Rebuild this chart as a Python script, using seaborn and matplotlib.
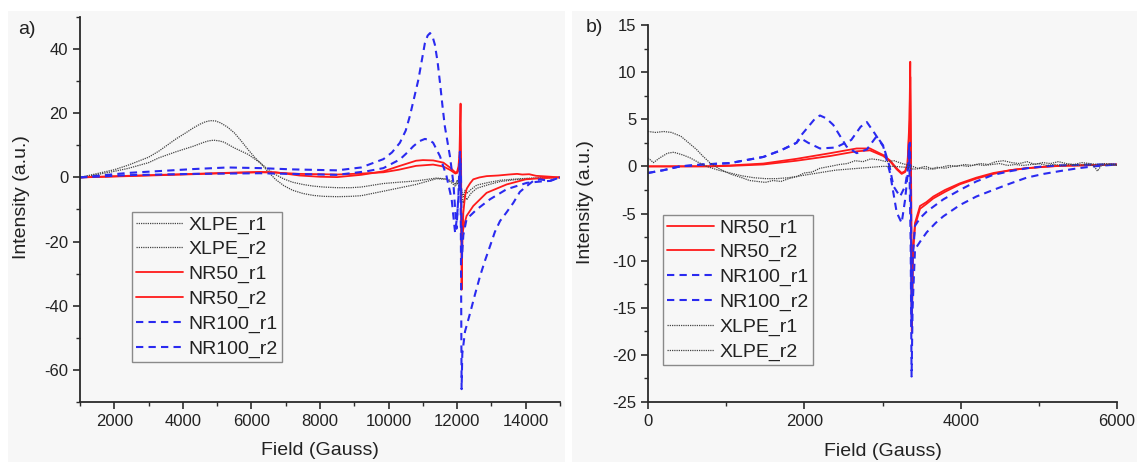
import matplotlib
matplotlib.use("Agg")
import matplotlib.pyplot as plt
import seaborn as sns
from matplotlib.patches import Rectangle
from matplotlib.ticker import MultipleLocator

# ---------------- Panel a data ----------------
a_xlpe_r1_x = [1000, 1500, 2000, 2400, 3000, 3300, 3800, 4100, 4300, 4500, 4650, 4800, 4950, 5100, 5300, 5500, 5700, 5900, 6100, 6250, 6450, 6700, 6950, 7200, 7500, 7800, 8100, 8500, 8900, 9200, 9850, 10300, 10800, 11400, 11700, 11850, 11950, 12000, 12060, 12100, 12140, 12180, 12230, 12280, 12400, 12570, 12900, 13250, 13700, 14200, 14600, 15000]
a_xlpe_r1_y = [0, 1.2, 2.4, 3.8, 6.3, 8.2, 12.0, 14.0, 15.4, 16.6, 17.3, 17.7, 17.6, 17.0, 15.7, 13.9, 11.4, 8.7, 6.2, 4.6, 2.2, -0.6, -2.6, -4.0, -5.0, -5.6, -5.9, -6.0, -5.9, -5.7, -4.3, -3.3, -2.2, -0.4, -0.6, -1.8, -2.8, -1.5, -3.0, -1.0, -6.5, -8.0, -5.5, -7.0, -5.0, -3.4, -2.3, -1.3, -0.7, -0.3, -0.1, 0]

a_xlpe_r2_x = [1000, 1500, 2000, 2400, 3000, 3300, 3800, 4300, 4600, 4750, 4900, 5050, 5200, 5500, 5900, 6250, 6450, 6700, 6950, 7200, 7500, 7800, 8100, 8500, 8900, 9200, 9850, 10300, 10800, 11400, 11700, 11850, 11950, 12000, 12060, 12100, 12140, 12180, 12230, 12280, 12400, 12570, 12900, 13250, 13700, 14200, 14600, 15000]
a_xlpe_r2_y = [0, 0.9, 1.9, 2.8, 4.6, 6.1, 8.0, 9.7, 10.9, 11.4, 11.6, 11.4, 11.0, 9.2, 7.2, 4.6, 2.8, 0.9, -0.5, -1.5, -2.2, -2.7, -3.0, -3.2, -3.2, -3.0, -1.9, -1.5, -1.1, -0.2, -0.5, -1.2, -2.2, -0.8, -2.0, -1.5, -4.5, -6.0, -4.0, -5.0, -3.8, -2.4, -1.6, -0.9, -0.5, -0.2, -0.1, 0]

a_nr50_r1_x = [1000, 2400, 4300, 5500, 6250, 6700, 7400, 8000, 8500, 9200, 9850, 10300, 10800, 11000, 11300, 11600, 11800, 11950, 12000, 12040, 12070, 12085, 12100, 12115, 12130, 12150, 12180, 12230, 12280, 12380, 12470, 12650, 12860, 13200, 13500, 13750, 13900, 14100, 14300, 14600, 15000]
a_nr50_r1_y = [0, 0.5, 1.1, 1.5, 1.7, 1.6, 0.6, 0.2, 0.1, 0.8, 1.9, 3.5, 5.2, 5.4, 5.3, 4.6, 3.0, 1.5, 1.8, 3.5, 8, 16, 23, 5, -35, -22, -11, -5.8, -3.5, -1.8, -0.6, 0.0, 0.4, 0.6, 0.9, 1.1, 0.9, 1.0, 0.5, 0.3, 0]

a_nr50_r2_x = [1000, 2400, 4300, 5500, 6250, 6700, 7400, 8000, 8500, 9200, 9850, 10300, 10800, 11300, 11600, 11800, 11950, 12000, 12050, 12085, 12100, 12130, 12160, 12200, 12275, 12470, 12860, 13440, 14000, 14500, 15000]
a_nr50_r2_y = [0, 0.4, 1.0, 1.4, 1.6, 1.5, 1.1, 1.0, 0.9, 1.2, 1.6, 2.4, 3.6, 4.0, 3.4, 2.3, 1.2, 1.4, 2.5, 6, 3, -20, -17, -15, -12, -8.9, -4.8, -2.2, -0.6, -0.2, 0]

a_nr100_r1_x = [1000, 2400, 4300, 5300, 6250, 7200, 8500, 9200, 9850, 10100, 10330, 10500, 10620, 10750, 10870, 10970, 11060, 11140, 11210, 11280, 11350, 11430, 11500, 11570, 11640, 11790, 11890, 11980, 12040, 12080, 12100, 12130, 12150, 12230, 12370, 12520, 12670, 12810, 12960, 13100, 13250, 13440, 13640, 13830, 14030, 14220, 14420, 14700, 15000]
a_nr100_r1_y = [0, 1.4, 2.6, 3.1, 2.9, 2.5, 2.2, 3.1, 5.7, 7.8, 10.8, 14.6, 19.1, 25.0, 30.5, 36.5, 41.9, 44.2, 45.0, 44.0, 41.4, 36.0, 29.5, 22.5, 16.0, 6.6, -1.7, -16, -5, 8, 2, -66, -55, -48, -42.6, -36.5, -30.7, -26.0, -21.4, -17.0, -13.6, -10.9, -7.9, -4.5, -2.7, -1.1, -0.6, -1.1, 0]

a_nr100_r2_x = [1000, 2400, 4300, 6250, 8500, 9360, 9850, 10330, 10550, 10720, 10900, 11060, 11180, 11300, 11500, 11690, 11840, 11940, 12000, 12060, 12090, 12110, 12140, 12180, 12275, 12570, 12960, 13440, 14030, 14500, 14710, 15000]
a_nr100_r2_y = [0, 0.7, 1.1, 1.3, 0.8, 1.9, 2.9, 5.6, 7.8, 9.7, 11.3, 12.0, 11.7, 10.8, 6.6, 0.4, -6.8, -17.2, -12, -3, 6, 2, -25, -18, -13, -10, -6.8, -3.7, -1.7, -1.2, -1.1, 0]

# ---------------- Panel b data ----------------
b_nr50_r1_x = [0, 400, 800, 1050, 1475, 1900, 2330, 2670, 2840, 3010, 3100, 3180, 3245, 3290, 3320, 3345, 3355, 3365, 3375, 3390, 3416, 3480, 3560, 3650, 3800, 3990, 4200, 4420, 4640, 4840, 5060, 5270, 5500, 5750, 6000]
b_nr50_r1_y = [0, 0, 0.02, 0.1, 0.3, 0.8, 1.4, 1.9, 1.9, 1.2, 0.6, -0.2, -0.7, -0.5, 0.3, 5, 11.1, 0, -17.5, -9, -6.0, -4.2, -3.8, -3.2, -2.5, -1.8, -1.2, -0.7, -0.4, -0.2, -0.05, 0.07, 0.1, 0.15, 0.2]

b_nr50_r2_x = [0, 400, 800, 1050, 1475, 1900, 2330, 2670, 2840, 3010, 3100, 3180, 3245, 3290, 3320, 3345, 3355, 3365, 3375, 3390, 3416, 3480, 3560, 3650, 3800, 3990, 4200, 4420, 4640, 4840, 5060, 5270, 5500, 5750, 6000]
b_nr50_r2_y = [0, 0, 0.0, 0.05, 0.2, 0.6, 1.1, 1.6, 1.7, 1.1, 0.5, -0.3, -0.8, -0.6, 0.2, 4, 9.5, 0, -16, -9, -6.3, -4.5, -4.0, -3.4, -2.7, -1.9, -1.3, -0.8, -0.4, -0.2, -0.05, 0.05, 0.1, 0.15, 0.2]

b_nr100_r1_x = [0, 200, 410, 700, 1050, 1475, 1700, 1900, 1950, 2050, 2130, 2200, 2280, 2370, 2540, 2670, 2800, 2925, 3010, 3090, 3140, 3224, 3290, 3330, 3350, 3365, 3372, 3385, 3416, 3480, 3565, 3778, 3991, 4200, 4417, 4640, 4843, 5060, 5270, 5500, 5700, 6000]
b_nr100_r1_y = [-0.7, -0.4, 0, 0.2, 0.35, 1.0, 1.7, 2.5, 3.2, 4.2, 5.0, 5.4, 5.1, 4.4, 2.1, 1.4, 1.8, 3.2, 2.2, 0, -2.1, -3.2, -2.1, 0, 2.5, -5, -17, -10, -6.3, -5.5, -4.8, -3.5, -2.5, -1.6, -0.9, -0.5, -0.2, 0, 0.1, 0.15, 0.2, 0.2]

b_nr100_r2_x = [0, 200, 410, 700, 1050, 1475, 1700, 1900, 1950, 2050, 2200, 2400, 2600, 2720, 2800, 2900, 3010, 3096, 3182, 3245, 3288, 3320, 3340, 3360, 3372, 3385, 3416, 3480, 3565, 3680, 3778, 3991, 4200, 4417, 4640, 4843, 5060, 5270, 5500, 5700, 6000]
b_nr100_r2_y = [-0.7, -0.4, 0, 0.2, 0.35, 1.0, 1.7, 2.5, 3.0, 2.5, 1.9, 2.0, 2.8, 4.2, 4.7, 3.5, 2.1, -0.7, -4.9, -6.0, -3.6, -1, 2.3, -8, -22.3, -15, -8.8, -8, -7.0, -6.0, -5.3, -4.1, -3.2, -2.5, -1.8, -1.2, -0.8, -0.5, -0.2, 0, 0.2]

b_xlpe_r1_x = [0, 100, 200, 300, 420, 520, 620, 700, 790, 900, 1050, 1200, 1300, 1400, 1500, 1600, 1700, 1800, 1900, 2000, 2100, 2200, 2330, 2450, 2550, 2650, 2750, 2850, 2950, 3050, 3150, 3250, 3350, 3450, 3550, 3650, 3750, 3850, 3950, 4050, 4150, 4250, 4350, 4450, 4550, 4650, 4750, 4850, 4950, 5050, 5150, 5250, 5350, 5450, 5550, 5650, 5750, 5850, 6000]
b_xlpe_r1_y = [3.7, 3.6, 3.7, 3.6, 3.2, 2.5, 1.8, 1.1, 0.4, -0.2, -0.8, -1.2, -1.5, -1.6, -1.7, -1.5, -1.6, -1.3, -1.1, -0.7, -0.6, -0.2, 0, 0.2, 0.3, 0.6, 0.5, 0.8, 0.7, 0.5, 0.6, 0.3, 0.1, -0.2, 0, -0.3, -0.1, 0.1, 0, 0.2, 0.1, 0.3, 0.2, 0.5, 0.6, 0.4, 0.3, 0.5, 0.2, 0.4, 0.3, 0.5, 0.3, 0.2, 0.4, 0.3, 0.2, 0.3, 0.2]

b_xlpe_r2_x = [0, 70, 150, 250, 330, 450, 540, 650, 750, 900, 1050, 1200, 1350, 1500, 1650, 1800, 1950, 2100, 2250, 2400, 2550, 2700, 2850, 3000, 3150, 3300, 3400, 3500, 3600, 3700, 3800, 3900, 4000, 4100, 4200, 4300, 4400, 4500, 4600, 4700, 4800, 4900, 5000, 5100, 5200, 5300, 5400, 5500, 5600, 5700, 5750, 5800, 5900, 6000]
b_xlpe_r2_y = [0.9, 0.4, 0.9, 1.4, 1.5, 1.2, 0.9, 0.4, 0, -0.4, -0.7, -1.0, -1.2, -1.3, -1.3, -1.2, -1.0, -0.8, -0.6, -0.4, -0.3, -0.2, -0.1, 0, 0, -0.1, -0.3, -0.2, -0.3, -0.1, -0.2, 0, 0.1, 0, 0.2, 0.1, 0.2, 0.3, 0.1, 0.2, 0.1, 0.2, 0.3, 0.1, 0.2, 0.1, 0.2, 0.1, 0.2, 0.1, -0.5, 0.1, 0.2, 0.1]

# ---------------- Styling ----------------
sns.set_theme(style="ticks")
plt.rcParams["font.family"] = ["Liberation Sans", "DejaVu Sans"]
plt.rcParams["axes.unicode_minus"] = False

BG = "#f7f7f7"
GRAY = "#444444"
RED = "#ff1a1a"
BLUE = "#2a2af0"
XLPE_LS = (0, (1.0, 0.8))
NR100_LS = (0, (3.5, 2.5))

W, H = 1137, 462
fig = plt.figure(figsize=(W / 100, H / 100), dpi=100)
fig.patch.set_facecolor("white")
fig.patches.append(Rectangle((8 / W, 0), (565 - 8) / W, 1 - 11 / H, transform=fig.transFigure,
                             facecolor=BG, edgecolor="none", zorder=-10))
fig.patches.append(Rectangle((572 / W, 0), (W - 572) / W, 1 - 11 / H, transform=fig.transFigure,
                             facecolor=BG, edgecolor="none", zorder=-10))

ax_a = fig.add_axes([80 / W, 1 - 402 / H, 480 / W, 385 / H])
ax_b = fig.add_axes([648 / W, 1 - 402 / H, 469 / W, 377 / H])


def draw(ax, x, y, name, kind):
    if kind == "xlpe":
        kw = dict(color=GRAY, linestyle=XLPE_LS, linewidth=0.9)
    elif kind == "nr50":
        kw = dict(color=RED, linestyle="-", linewidth=1.3)
    else:
        kw = dict(color=BLUE, linestyle=NR100_LS, linewidth=1.5)
    sns.lineplot(x=x, y=y, ax=ax, label=name, sort=False, estimator=None, **kw)


draw(ax_a, a_xlpe_r1_x, a_xlpe_r1_y, "XLPE_r1", "xlpe")
draw(ax_a, a_xlpe_r2_x, a_xlpe_r2_y, "XLPE_r2", "xlpe")
draw(ax_a, a_nr50_r1_x, a_nr50_r1_y, "NR50_r1", "nr50")
draw(ax_a, a_nr50_r2_x, a_nr50_r2_y, "NR50_r2", "nr50")
draw(ax_a, a_nr100_r1_x, a_nr100_r1_y, "NR100_r1", "nr100")
draw(ax_a, a_nr100_r2_x, a_nr100_r2_y, "NR100_r2", "nr100")

draw(ax_b, b_nr50_r1_x, b_nr50_r1_y, "NR50_r1", "nr50")
draw(ax_b, b_nr50_r2_x, b_nr50_r2_y, "NR50_r2", "nr50")
draw(ax_b, b_nr100_r1_x, b_nr100_r1_y, "NR100_r1", "nr100")
draw(ax_b, b_nr100_r2_x, b_nr100_r2_y, "NR100_r2", "nr100")
draw(ax_b, b_xlpe_r1_x, b_xlpe_r1_y, "XLPE_r1", "xlpe")
draw(ax_b, b_xlpe_r2_x, b_xlpe_r2_y, "XLPE_r2", "xlpe")

for ax in (ax_a, ax_b):
    ax.set_facecolor(BG)
    sns.despine(ax=ax)
    for s in ("left", "bottom"):
        ax.spines[s].set_color("#2a2a2a")
        ax.spines[s].set_linewidth(1.3)
    ax.tick_params(which="major", direction="out", length=5, width=1.2, color="#2a2a2a",
                   labelsize=12, labelcolor="#222222")
    ax.tick_params(which="minor", direction="out", length=3, width=1.0, color="#2a2a2a")
    ax.set_xlabel("Field (Gauss)", fontsize=14, color="#222222")
    ax.set_ylabel("Intensity (a.u.)", fontsize=14, color="#222222")

ax_a.set_xlim(1000, 15000)
ax_a.set_ylim(-70, 50)
ax_a.set_xticks([2000, 4000, 6000, 8000, 10000, 12000, 14000])
ax_a.set_yticks([-60, -40, -20, 0, 20, 40])
ax_a.xaxis.set_minor_locator(MultipleLocator(1000))
ax_a.yaxis.set_minor_locator(MultipleLocator(10))

ax_b.set_xlim(0, 6000)
ax_b.set_ylim(-25, 15)
ax_b.set_xticks([0, 2000, 4000, 6000])
ax_b.set_yticks([-25, -20, -15, -10, -5, 0, 5, 10, 15])
ax_b.xaxis.set_minor_locator(MultipleLocator(1000))
ax_b.yaxis.set_minor_locator(MultipleLocator(2.5))

ax_a.xaxis.set_label_coords(0.5, -0.105)
ax_a.yaxis.set_label_coords(-0.104, 0.532)
ax_b.xaxis.set_label_coords(0.5, -0.108)
ax_b.yaxis.set_label_coords(-0.115, 0.53)

leg_kw = dict(loc="upper left", fontsize=14, handlelength=2.4, handletextpad=0.3,
              labelspacing=0.36, borderpad=0.2, borderaxespad=0, frameon=True,
              fancybox=False, framealpha=1, edgecolor="#8a8a8a", facecolor=BG)
la = ax_a.legend(bbox_to_anchor=((132 - 80) / 480, (402 - 212) / 385), **leg_kw)
lb = ax_b.legend(bbox_to_anchor=((663 - 648) / 469, (402 - 215) / 377), **leg_kw)
for lg in (la, lb):
    lg.get_frame().set_linewidth(1.0)
    for t in lg.get_texts():
        t.set_color("#222222")

fig.text(27 / W, 1 - 30 / H, "a)", fontsize=14, ha="center", va="center", color="#222222")
fig.text(594 / W, 1 - 27 / H, "b)", fontsize=14, ha="center", va="center", color="#222222")

fig.savefig("out.png", dpi=100, facecolor="white")
